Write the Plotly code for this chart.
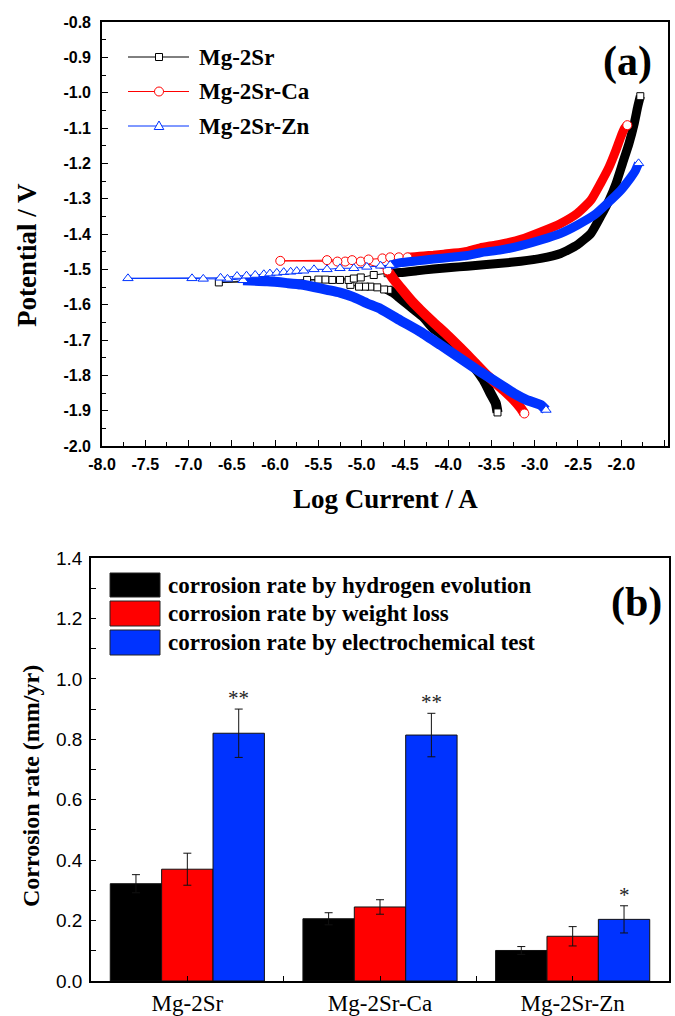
import plotly.graph_objects as go

W, H = 675, 1016

# ---------------- panel (a): polarization curves (log I / A  vs  E / V) ----------------
series_names = ["Mg-2Sr", "Mg-2Sr-Ca", "Mg-2Sr-Zn"]

# Mg-2Sr
sr_cath_x = [-3.43, -3.44, -3.45, -3.51, -3.59, -3.70, -3.80, -3.90, -4.01, -4.09, -4.17, -4.28, -4.40, -4.47, -4.55, -4.63, -4.69]
sr_cath_y = [-1.905, -1.890, -1.879, -1.851, -1.813, -1.776, -1.750, -1.728, -1.700, -1.681, -1.667, -1.636, -1.612, -1.598, -1.582, -1.566, -1.558]
sr_ecorr_x = [-4.69, -4.74, -4.82, -4.90, -4.96, -5.03, -5.13, -5.15, -5.25, -5.34, -5.42, -5.50, -5.63, -6.65, -5.09, -5.01, -4.86, -4.70]
sr_ecorr_y = [-1.558, -1.557, -1.551, -1.549, -1.549, -1.549, -1.544, -1.530, -1.530, -1.530, -1.529, -1.529, -1.530, -1.537, -1.526, -1.523, -1.516, -1.511]
sr_anod_x = [-4.70, -4.55, -4.36, -4.17, -3.97, -3.78, -3.59, -3.39, -3.16, -2.93, -2.70, -2.51, -2.35, -2.24, -2.14, -2.06, -1.985, -1.91, -1.85, -1.81, -1.78]
sr_anod_y = [-1.511, -1.509, -1.504, -1.499, -1.495, -1.491, -1.487, -1.483, -1.477, -1.469, -1.455, -1.431, -1.398, -1.351, -1.304, -1.257, -1.200, -1.143, -1.087, -1.040, -1.010]

# Mg-2Sr-Ca
ca_cath_x = [-3.12, -3.16, -3.24, -3.36, -3.55, -3.70, -3.78, -3.86, -4.01, -4.17, -4.32, -4.42, -4.55, -4.63, -4.70]
ca_cath_y = [-1.908, -1.893, -1.870, -1.842, -1.800, -1.762, -1.742, -1.722, -1.686, -1.650, -1.615, -1.590, -1.552, -1.528, -1.503]
ca_ecorr_x = [-4.70, -5.01, -5.19, -5.28, -5.94, -5.40, -5.11, -4.92, -4.76, -4.67, -4.57, -4.47]
ca_ecorr_y = [-1.503, -1.478, -1.478, -1.478, -1.476, -1.474, -1.474, -1.472, -1.469, -1.466, -1.466, -1.466]
ca_anod_x = [-4.47, -4.38, -4.28, -4.17, -4.05, -3.93, -3.78, -3.63, -3.47, -3.32, -3.16, -2.93, -2.70, -2.51, -2.35, -2.24, -2.14, -2.06, -2.005, -1.96, -1.93]
ca_anod_y = [-1.466, -1.464, -1.462, -1.460, -1.457, -1.454, -1.449, -1.439, -1.432, -1.425, -1.415, -1.394, -1.370, -1.342, -1.304, -1.257, -1.210, -1.162, -1.125, -1.100, -1.092]

# Mg-2Sr-Zn
zn_cath_x = [-2.87, -2.93, -3.09, -3.24, -3.39, -3.63, -3.86, -4.09, -4.32, -4.55, -4.78, -4.94, -5.10, -5.25, -5.40, -5.55, -5.70, -5.86, -6.09, -6.37]
zn_cath_y = [-1.898, -1.884, -1.870, -1.851, -1.827, -1.790, -1.752, -1.714, -1.677, -1.645, -1.612, -1.596, -1.578, -1.566, -1.558, -1.550, -1.543, -1.539, -1.534, -1.531]
zn_ecorr_x = [-6.37, -6.55, -6.83, -6.96, -7.70, -6.63, -6.44, -6.33, -6.23, -6.13, -6.06, -5.98, -5.90, -5.82, -5.75, -5.67, -5.55, -5.40, -5.25, -5.09, -4.94, -4.78, -4.67]
zn_ecorr_y = [-1.531, -1.527, -1.527, -1.5255, -1.5255, -1.524, -1.519, -1.518, -1.516, -1.514, -1.512, -1.510, -1.508, -1.507, -1.505, -1.504, -1.500, -1.500, -1.497, -1.497, -1.493, -1.490, -1.488]
zn_anod_x = [-4.67, -4.55, -4.36, -4.17, -3.97, -3.78, -3.63, -3.39, -3.16, -2.93, -2.70, -2.51, -2.31, -2.16, -2.005, -1.89, -1.84, -1.80]
zn_anod_y = [-1.488, -1.481, -1.476, -1.471, -1.466, -1.461, -1.453, -1.445, -1.433, -1.417, -1.398, -1.375, -1.346, -1.313, -1.276, -1.240, -1.222, -1.200]

# tick labels of panel (a) (plain hyphen minus, as in the original)
a_xtick_vals = [-8.0, -7.5, -7.0, -6.5, -6.0, -5.5, -5.0, -4.5, -4.0, -3.5, -3.0, -2.5, -2.0, -1.5]
a_xtick_text = ["-8.0", "-7.5", "-7.0", "-6.5", "-6.0", "-5.5", "-5.0", "-4.5", "-4.0", "-3.5", "-3.0", "-2.5", "-2.0", "-1.5"]
a_ytick_vals = [-2.0, -1.9, -1.8, -1.7, -1.6, -1.5, -1.4, -1.3, -1.2, -1.1, -1.0, -0.9, -0.8]
a_ytick_text = ["-2.0", "-1.9", "-1.8", "-1.7", "-1.6", "-1.5", "-1.4", "-1.3", "-1.2", "-1.1", "-1.0", "-0.9", "-0.8"]

# ---------------- panel (b): corrosion rates ----------------
alloys = ["Mg-2Sr", "Mg-2Sr-Ca", "Mg-2Sr-Zn"]
methods = ["corrosion rate by hydrogen evolution",
           "corrosion rate by weight loss",
           "corrosion rate by electrochemical test"]
rate_hydrogen = [0.322, 0.206, 0.101]
err_hydrogen = [0.030, 0.020, 0.013]
rate_weight = [0.370, 0.245, 0.148]
err_weight = [0.053, 0.024, 0.032]
rate_electro = [0.820, 0.814, 0.204]
err_electro = [0.080, 0.072, 0.045]
signif = ["**", "**", "*"]

BLACK, RED, BLUE = "#000000", "#ff0000", "#0033ff"
SERIF = "Liberation Serif, Times New Roman, serif"
SANS = "Liberation Sans, Arial, sans-serif"
NARROW = "Liberation Sans Narrow, Liberation Sans, Arial, sans-serif"


def px(xp):
    return xp / W


def py(yp):
    return 1 - yp / H


fig = go.Figure()

colors = [BLACK, RED, BLUE]
symbols = ["square", "circle", "triangle-up"]
msize = [7, 9, 9]
curves = [
    (sr_cath_x, sr_cath_y, sr_ecorr_x, sr_ecorr_y, sr_anod_x, sr_anod_y),
    (ca_cath_x, ca_cath_y, ca_ecorr_x, ca_ecorr_y, ca_anod_x, ca_anod_y),
    (zn_cath_x, zn_cath_y, zn_ecorr_x, zn_ecorr_y, zn_anod_x, zn_anod_y),
]
for i, (cx, cy, ex, ey, ax_, ay_) in enumerate(curves):
    c = colors[i]
    mk = dict(symbol=symbols[i], size=msize[i], color="white", line=dict(color=c, width=1))
    # dense (overlapping-marker) parts of the sweep: drawn as a thick band
    for bx, by, bw in ((cx, cy, 10), (ax_, ay_, 9)):
        fig.add_trace(go.Scatter(x=bx, y=by, mode="lines", xaxis="x", yaxis="y",
                                 line=dict(color=c, width=bw, shape="spline", smoothing=0.5),
                                 showlegend=False, hoverinfo="skip"))
    # sparse part around the corrosion potential
    fig.add_trace(go.Scatter(x=ex, y=ey, mode="lines+markers", xaxis="x", yaxis="y",
                             line=dict(color=c, width=1), marker=mk,
                             name=series_names[i], showlegend=False))
    # end markers of the sweep
    fig.add_trace(go.Scatter(x=[cx[0], ax_[-1]], y=[cy[0], ay_[-1]], mode="markers",
                             xaxis="x", yaxis="y", marker=mk, showlegend=False, hoverinfo="skip"))

# bars
bar_sets = [(rate_hydrogen, err_hydrogen, BLACK), (rate_weight, err_weight, RED), (rate_electro, err_electro, BLUE)]
xcat = list(range(len(alloys)))
for j, (vals, errs, c) in enumerate(bar_sets):
    fig.add_trace(go.Bar(x=xcat, y=vals, name=methods[j], xaxis="x2", yaxis="y2",
                         marker=dict(color=c, line=dict(color="#111111", width=1)),
                         error_y=dict(type="data", array=errs, color="#111111", thickness=1, width=4),
                         showlegend=False))

axis_common = dict(showline=True, linecolor="black", linewidth=1.6, mirror=True,
                   ticks="inside", tickcolor="black", tickwidth=1.2, showgrid=False,
                   zeroline=False, automargin=False)

fig.update_layout(
    width=W, height=H,
    margin=dict(l=0, r=0, t=0, b=0, autoexpand=False),
    paper_bgcolor="white", plot_bgcolor="white",
    showlegend=False,
    barmode="group", bargap=0.2, bargroupgap=0.0,
    xaxis=dict(domain=[px(102), px(668)], range=[-8.0, -1.46], anchor="y",
               tickmode="array", tickvals=a_xtick_vals, ticktext=a_xtick_text, ticklen=6,
               minor=dict(ticks="inside", dtick=0.25, tick0=-8.0, ticklen=4, tickcolor="black"),
               tickfont=dict(family=SANS, size=16, color="black", weight="bold"),
               ticklabelstandoff=3, **axis_common),
    yaxis=dict(domain=[py(446), py(22)], range=[-2.0, -0.8], anchor="x",
               tickmode="array", tickvals=a_ytick_vals, ticktext=a_ytick_text, ticklen=6,
               minor=dict(ticks="inside", dtick=0.05, tick0=-2.0, ticklen=4, tickcolor="black"),
               tickfont=dict(family=SANS, size=16, color="black", weight="bold"),
               ticklabelstandoff=6, **axis_common),
    xaxis2=dict(domain=[px(91), px(669)], range=[-0.5, 2.5], anchor="y2",
                tickmode="array", tickvals=xcat, ticktext=alloys, ticklen=5,
                minor=dict(ticks="inside", tick0=0.5, dtick=1, ticklen=5, tickcolor="black"),
                tickfont=dict(family=SERIF, size=23, color="black"),
                ticklabelstandoff=1, **axis_common),
    yaxis2=dict(domain=[py(981), py(558)], range=[0, 1.4], anchor="x2",
                tick0=0, dtick=0.2, tickformat=".1f", ticklen=5,
                minor=dict(ticks="inside", dtick=0.1, tick0=0, ticklen=5, tickcolor="black"),
                tickfont=dict(family=NARROW, size=19, color="black"),
                ticklabelstandoff=3, **axis_common),
)

ann = []
shapes = []


def label(text, x, y, size, bold=True, angle=0, xanchor="center", color="black"):
    f = dict(family=SERIF, size=size, color=color)
    if bold:
        f["weight"] = "bold"
    return dict(text=text, x=px(x), y=py(y), xref="paper", yref="paper", textangle=angle,
                xanchor=xanchor, yanchor="middle", showarrow=False, font=f)


# axis titles
ann.append(label("Potential / V", 27, 255, 27, angle=-90))
ann.append(label("Log Current / A", 385, 499, 27))
ann.append(label("Corrosion rate (mm/yr)", 31, 786, 24, angle=-90))
# panel labels
ann.append(label("(a)", 627, 61, 42))
ann.append(label("(b)", 636, 602, 42))

# legend of panel (a)
leg_rows = [57, 91.5, 126]
for i, yy in enumerate(leg_rows):
    c = colors[i]
    shapes.append(dict(type="line", xref="paper", yref="paper", x0=px(128), x1=px(189),
                       y0=py(yy), y1=py(yy), line=dict(color=c, width=1)))
    cxp = 159
    if i == 0:
        shapes.append(dict(type="rect", xref="paper", yref="paper", x0=px(cxp - 3.5), x1=px(cxp + 3.5),
                           y0=py(yy + 3.5), y1=py(yy - 3.5), line=dict(color=c, width=1), fillcolor="white"))
    elif i == 1:
        shapes.append(dict(type="circle", xref="paper", yref="paper", x0=px(cxp - 4.5), x1=px(cxp + 4.5),
                           y0=py(yy + 4.5), y1=py(yy - 4.5), line=dict(color=c, width=1), fillcolor="white"))
    else:
        path = "M %f %f L %f %f L %f %f Z" % (px(cxp - 4.8), py(yy + 3.5), px(cxp + 4.8), py(yy + 3.5),
                                               px(cxp), py(yy - 5))
        shapes.append(dict(type="path", xref="paper", yref="paper", path=path,
                           line=dict(color=c, width=1), fillcolor="white"))
    ann.append(label(series_names[i], 197, yy, 23, xanchor="left"))

# legend of panel (b)
box_rows = [(573, 597), (601, 626), (630, 655)]
for j, (t, b) in enumerate(box_rows):
    shapes.append(dict(type="rect", xref="paper", yref="paper", x0=px(110), x1=px(160),
                       y0=py(b), y1=py(t), line=dict(color="#222222", width=1),
                       fillcolor=bar_sets[j][2]))
    ann.append(label(methods[j], 166, (t + b) / 2, 23, xanchor="left"))

# significance marks above the electrochemical bars
off = 0.8 / 3
for k in range(len(alloys)):
    ann.append(dict(text=signif[k], x=xcat[k] + off, y=rate_electro[k] + err_electro[k],
                    xref="x2", yref="y2", xanchor="center", yanchor="bottom", yshift=-3,
                    showarrow=False, font=dict(family=SERIF, size=21, color="#222222")))

fig.update_layout(annotations=ann, shapes=shapes)
fig.write_html("out.html")
